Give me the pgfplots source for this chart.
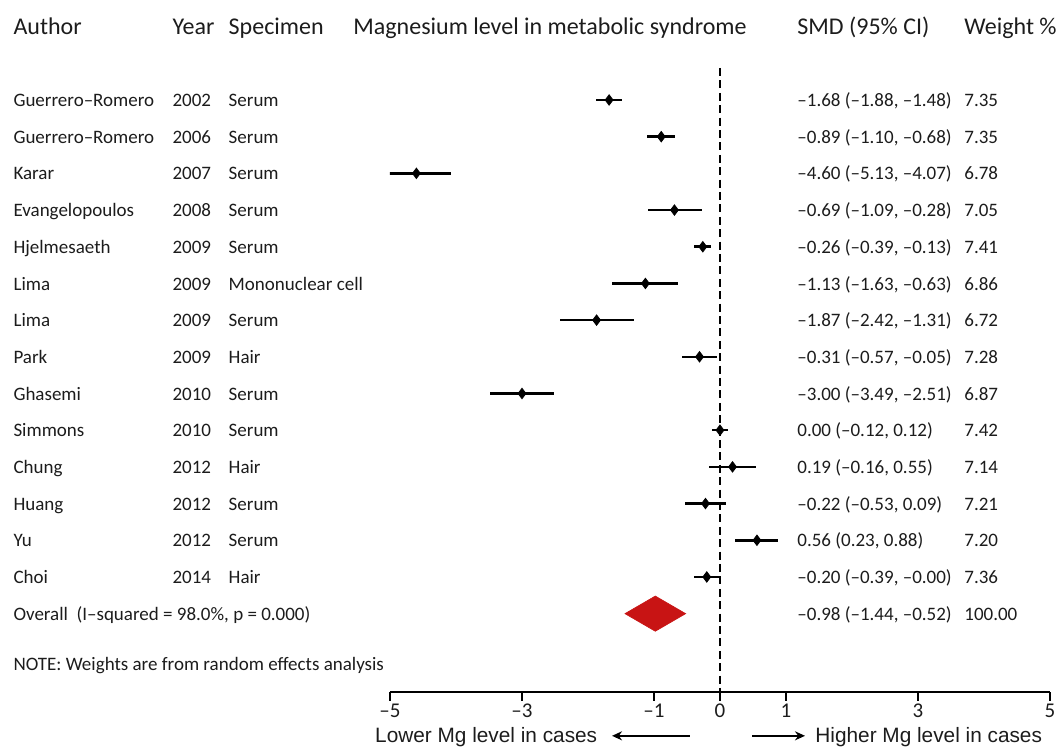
\documentclass[border=0pt]{standalone}
\usepackage{pgfplots}
\pgfplotsset{compat=1.18}
\usepackage{pgfplotstable}
\usepackage{fontspec}
\setmainfont{Carlito}
\newfontfamily\arialf{Liberation Sans}
\usetikzlibrary{arrows.meta}
\definecolor{ovred}{RGB}{200,20,20}
\definecolor{txt}{RGB}{28,28,28}

\pgfplotstableread{
row smd lo hi
1 -1.68 -1.88 -1.48
2 -0.89 -1.10 -0.68
3 -4.60 -5.13 -4.07
4 -0.69 -1.09 -0.28
5 -0.26 -0.39 -0.13
6 -1.13 -1.63 -0.63
7 -1.87 -2.42 -1.31
8 -0.31 -0.57 -0.05
9 -3.00 -3.49 -2.51
10 0.00 -0.12 0.12
11 0.19 -0.16 0.55
12 -0.22 -0.53 0.09
13 0.56 0.23 0.88
14 -0.20 -0.39 -0.00
}\data

\newcommand\rowfs{\fontsize{9.5}{11}\selectfont}
\newcommand\hdfs{\fontsize{12}{14}\selectfont}
\newcommand\studyrow[6]{%
 \node[anchor=mid west] at (axis cs:-10.71,#1-0.05) {#2};
 \node[anchor=mid west] at (axis cs:-8.30,#1-0.05) {#3};
 \node[anchor=mid west] at (axis cs:-7.45,#1-0.05) {#4};
 \node[anchor=mid west] at (axis cs:1.167,#1-0.05) {#5};
 \node[anchor=mid west] at (axis cs:3.697,#1-0.05) {#6};
}

\begin{document}
\begin{tikzpicture}
\begin{axis}[
  scale only axis, width=330pt, height=345.9pt,
  xmin=-5, xmax=5, ymin=-17.13, ymax=1.725,
  axis x line*=bottom, hide y axis,
  clip mode=individual,
  x axis line style={line width=0.75pt, black},
  xtick={-5,-3,-1,0,1,3,5},
  xticklabels={–5,–3,–1,0,1,3,5},
  tick align=outside, major tick length=4.5pt,
  x tick style={line width=0.75pt, black},
  xticklabel style={font=\fontsize{10.5}{12}\selectfont, text=txt, inner sep=1.5pt},
  nodes={inner sep=0pt, text=txt, font=\rowfs},
]
\coordinate (bbl) at (axis cs:-10.909,-18.738);
\coordinate (btr) at (axis cs:5.182,1.725);

% reference line
\addplot[black, line width=0.9pt, dash pattern=on 4pt off 2.2pt] coordinates {(0,-0.128) (0,-17.13)};

% studies
\addplot[only marks, mark=diamond*, mark size=2.6pt, black,
  error bars/.cd, x dir=both, x explicit, error mark=none,
  error bar style={line width=1.3pt, black}]
  table[x=smd, y expr=-\thisrow{row},
        x error plus expr=\thisrow{hi}-\thisrow{smd},
        x error minus expr=\thisrow{smd}-\thisrow{lo}] {\data};

% overall
\addplot[fill=ovred, draw=ovred, line width=0.3pt] coordinates {(-1.44,-15) (-0.98,-14.52) (-0.52,-15) (-0.98,-15.48)} -- cycle;

% headers
\node[anchor=mid west, font=\hdfs] at (axis cs:-10.71,0.92) {Author};
\node[anchor=mid west, font=\hdfs] at (axis cs:-8.30,0.92) {Year};
\node[anchor=mid west, font=\hdfs] at (axis cs:-7.45,0.92) {Specimen};
\node[anchor=mid west, font=\hdfs] at (axis cs:-5.56,0.92) {Magnesium level in metabolic syndrome};
\node[anchor=mid west, font=\hdfs] at (axis cs:1.167,0.92) {SMD (95\% CI)};
\node[anchor=mid west, font=\hdfs] at (axis cs:3.697,0.92) {Weight \%};

\studyrow{-1}{Guerrero–Romero}{2002}{Serum}{–1.68 (–1.88, –1.48)}{7.35}
\studyrow{-2}{Guerrero–Romero}{2006}{Serum}{–0.89 (–1.10, –0.68)}{7.35}
\studyrow{-3}{Karar}{2007}{Serum}{–4.60 (–5.13, –4.07)}{6.78}
\studyrow{-4}{Evangelopoulos}{2008}{Serum}{–0.69 (–1.09, –0.28)}{7.05}
\studyrow{-5}{Hjelmesaeth}{2009}{Serum}{–0.26 (–0.39, –0.13)}{7.41}
\studyrow{-6}{Lima}{2009}{Mononuclear cell}{–1.13 (–1.63, –0.63)}{6.86}
\studyrow{-7}{Lima}{2009}{Serum}{–1.87 (–2.42, –1.31)}{6.72}
\studyrow{-8}{Park}{2009}{Hair}{–0.31 (–0.57, –0.05)}{7.28}
\studyrow{-9}{Ghasemi}{2010}{Serum}{–3.00 (–3.49, –2.51)}{6.87}
\studyrow{-10}{Simmons}{2010}{Serum}{0.00 (–0.12, 0.12)}{7.42}
\studyrow{-11}{Chung}{2012}{Hair}{0.19 (–0.16, 0.55)}{7.14}
\studyrow{-12}{Huang}{2012}{Serum}{–0.22 (–0.53, 0.09)}{7.21}
\studyrow{-13}{Yu}{2012}{Serum}{0.56 (0.23, 0.88)}{7.20}
\studyrow{-14}{Choi}{2014}{Hair}{–0.20 (–0.39, –0.00)}{7.36}

\node[anchor=mid west] at (axis cs:-10.71,-15.05) {Overall\ \ (I–squared = 98.0\%, p = 0.000)};
\node[anchor=mid west] at (axis cs:1.167,-15.05) {–0.98 (–1.44, –0.52)};
\node[anchor=mid west] at (axis cs:3.697,-15.05) {100.00};
\node[anchor=mid west] at (axis cs:-10.71,-16.42) {NOTE: Weights are from random effects analysis};

% direction labels
\node[anchor=mid west, font=\arialf\fontsize{10.4}{12}\selectfont] at (axis cs:-5.23,-18.38) {Lower Mg level in cases};
\node[anchor=mid west, font=\arialf\fontsize{10.4}{12}\selectfont] at (axis cs:1.44,-18.38) {Higher Mg level in cases};
\draw[line width=0.9pt, -{Stealth[length=5pt,width=4.5pt]}] (axis cs:-0.455,-18.33) -- (axis cs:-1.636,-18.33);
\draw[line width=0.9pt, -{Stealth[length=5pt,width=4.5pt]}] (axis cs:0.485,-18.33) -- (axis cs:1.288,-18.33);
\end{axis}
\pgfresetboundingbox
\useasboundingbox (bbl) rectangle (btr);
\end{tikzpicture}
\end{document}
